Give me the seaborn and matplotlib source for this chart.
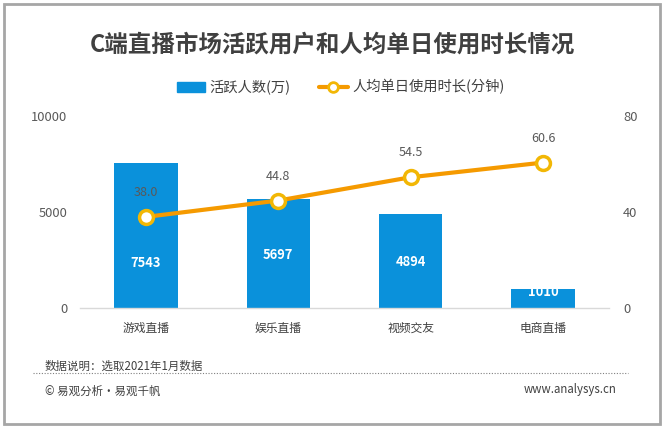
import matplotlib
matplotlib.use("Agg")
import matplotlib.pyplot as plt
import seaborn as sns
import pandas as pd
from matplotlib.patches import Rectangle
from matplotlib.lines import Line2D

categories = ["游戏直播", "娱乐直播", "视频交友", "电商直播"]
active_users = [7543, 5697, 4894, 1010]
avg_minutes = [38.0, 44.8, 54.5, 60.6]
left_ticks = [0, 5000, 10000]
right_ticks = [0, 40, 80]

sns.set_theme(style="white")
plt.rcParams['font.family'] = ['Noto Sans CJK SC', 'DejaVu Sans']

BLUE = "#0A91DB"
ORANGE = "#F59A00"
GOLD = "#F2B705"
DARK = "#404040"
GRAY = "#595959"

df = pd.DataFrame({"cat": categories, "users": active_users, "mins": avg_minutes})

fig = plt.figure(figsize=(6.65, 4.28), dpi=100)
ax = fig.add_axes([0.120, 0.280, 0.796, 0.449])

sns.barplot(data=df, x="cat", y="users", color=BLUE, width=0.48, ax=ax,
            saturation=1, edgecolor="none")
ax.set_xlim(-0.5, 3.5)
ax.set_ylim(0, 10000)
ax.set_yticks(left_ticks)
ax.set_yticklabels([str(t) for t in left_ticks], color=GRAY, fontsize=9.3)
ax.set_xlabel("")
ax.set_ylabel("")
ax.tick_params(axis="x", length=0, pad=10, labelsize=8.5, labelcolor=DARK)
ax.tick_params(axis="y", length=0, pad=9)
for s in ["top", "right", "left"]:
    ax.spines[s].set_visible(False)
ax.spines["bottom"].set_color("#D9D9D9")
ax.spines["bottom"].set_linewidth(1)

# label placement inside bars (fraction of bar height)
label_frac = [0.31, 0.49, 0.49, 0.83]
for i, v in enumerate(active_users):
    ax.text(i, v * label_frac[i], str(v), ha="center", va="center",
            color="white", fontsize=9.3, fontweight="bold")

ax2 = ax.twinx()
sns.lineplot(data=df, x="cat", y="mins", color=ORANGE, linewidth=3, ax=ax2,
             marker="o", markersize=10, markerfacecolor="white",
             markeredgecolor=GOLD, markeredgewidth=2.5, sort=False)
ax2.set_ylim(0, 80)
ax2.set_yticks(right_ticks)
ax2.set_yticklabels([str(t) for t in right_ticks], color=GRAY, fontsize=9.3)
ax2.set_ylabel("")
ax2.tick_params(axis="y", length=0, pad=10)
for s in ["top", "right", "left", "bottom"]:
    ax2.spines[s].set_visible(False)
ax.set_xlim(-0.5, 3.5)

for i, v in enumerate(avg_minutes):
    ax2.annotate(f"{v:.1f}", (i, v), xytext=(0, 17.5), textcoords="offset points",
                 ha="center", va="center", color=GRAY, fontsize=9)

fig.text(0.5, 1 - 45 / 428, "C端直播市场活跃用户和人均单日使用时长情况", ha="center", va="center",
         fontsize=16.9, fontweight="bold", color=DARK)

handles = [Rectangle((0, 0), 1, 1, color=BLUE),
           Line2D([0], [0], color=ORANGE, lw=3, marker="o", markersize=7,
                  markerfacecolor="white", markeredgecolor=GOLD, markeredgewidth=2)]
fig.legend(handles, ["活跃人数(万)", "人均单日使用时长(分钟)"], loc="center",
           bbox_to_anchor=(0.5 + 8 / 665, 1 - 87 / 428), ncol=2, frameon=False, fontsize=10.3,
           handlelength=2.0, columnspacing=2.0, handletextpad=0.3, labelcolor=DARK)

fig.text(45 / 665, 1 - 366 / 428, "数据说明：选取2021年1月数据", ha="left", va="center",
         fontsize=8.25, color=DARK)
fig.add_artist(Line2D([33 / 665, 628 / 665], [1 - 373 / 428, 1 - 373 / 428],
                      color="#808080", lw=0.8, linestyle=(0, (1, 1.5))))
fig.text(45 / 665, 1 - 391 / 428, "© 易观分析·易观千帆", ha="left", va="center",
         fontsize=8.25, color=DARK)
fig.text(617 / 665, 1 - 389 / 428, "www.analysys.cn", ha="right", va="center",
         fontsize=8.25, color=DARK)

fig.add_artist(Rectangle((4 / 665, 4 / 428), 656 / 665, 420 / 428, fill=False,
                         edgecolor="#A6A6A6", linewidth=2, transform=fig.transFigure))

fig.savefig("out.png", dpi=100, facecolor="white")
